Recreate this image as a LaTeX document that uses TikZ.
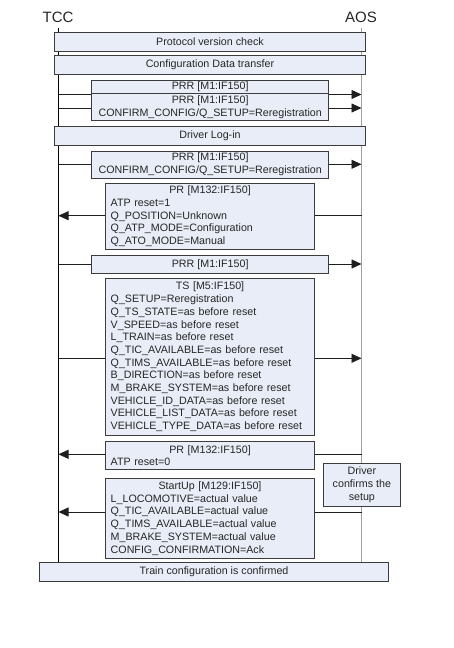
\documentclass[tikz,border=0pt]{standalone}
\usepackage{fontspec}
\setmainfont{Liberation Sans}
\usetikzlibrary{arrows.meta}
\definecolor{boxfill}{RGB}{232,237,247}
\definecolor{boxline}{RGB}{60,60,60}
\definecolor{aosline}{RGB}{160,160,160}
\definecolor{msgline}{RGB}{30,30,30}
% centred heading line inside a left-aligned message box
\newcommand{\msghead}[1]{\hbox to\hsize{\hss#1\hss}\\}

\begin{document}
\begin{tikzpicture}[x=1pt,y=-1pt,
  every node/.style={font=\fontsize{10.7}{12.7}\selectfont, text=black!85},
  phase/.style={draw=boxline, fill=boxfill, line width=0.8pt, inner sep=0pt, align=center},
  msg/.style={draw=boxline, fill=boxfill, line width=0.8pt, inner xsep=5pt, inner ysep=1pt, align=left},
  msgc/.style={draw=boxline, fill=boxfill, line width=0.8pt, inner sep=0pt, align=center},
  msgarrow/.style={draw=msgline, line width=0.8pt, -{Triangle[length=10pt,width=9pt]}},
  actor/.style={font=\fontsize{15}{18}\selectfont}
]
\useasboundingbox (0,0) rectangle (453,648);

% actors
\node[actor] (tcc) at (58,17) {TCC};
\node[actor] (aos) at (361,17) {AOS};

% lifelines
\coordinate (tcctop) at (58.5,28);
\coordinate (tccbot) at (58.5,562);
\coordinate (aostop) at (361.5,28);
\coordinate (aosbot) at (361.5,562);
\draw[black, line width=0.8pt] (tcctop) -- (tccbot);
\draw[aosline, line width=1.5pt] (aostop) -- (aosbot);

% message levels
\coordinate (m1) at (0,94.5);
\coordinate (m2) at (0,108);
\coordinate (m3) at (0,164.3);
\coordinate (m4) at (0,215.7);
\coordinate (m5) at (0,264);
\coordinate (m6) at (0,358.3);
\coordinate (m7) at (0,454.3);
\coordinate (m8) at (0,512);

\draw[msgarrow] (tcctop |- m1) -- (aostop |- m1);
\draw[msgarrow] (tcctop |- m2) -- (aostop |- m2);
\draw[msgarrow] (tcctop |- m3) -- (aostop |- m3);
\draw[msgarrow] (aostop |- m4) -- (tcctop |- m4);
\draw[msgarrow] (tcctop |- m5) -- (aostop |- m5);
\draw[msgarrow] (tcctop |- m6) -- (aostop |- m6);
\draw[msgarrow] (aostop |- m7) -- (tcctop |- m7);
\draw[msgarrow] (aostop |- m8) -- (tcctop |- m8);

% phases
\node[phase, minimum width=311.4pt, minimum height=19.4pt] (pvc) at (210,42) {Protocol version check};
\node[phase, minimum width=311.4pt, minimum height=18.3pt] (cdt) at (210,64.85) {Configuration Data transfer};

% messages
\node[msgc, minimum width=237pt, minimum height=13.2pt] (prr1) at (210.2,86.9) {PRR [M1:IF150]};
\node[msgc, minimum width=237pt, minimum height=27.2pt] (prr2) at (210.2,107.1) {PRR [M1:IF150]\\CONFIRM\_CONFIG/Q\_SETUP=Reregistration};

\node[phase, minimum width=311.4pt, minimum height=19.3pt] (dli) at (210,135.7) {Driver Log-in};

\node[msgc, minimum width=237pt, minimum height=27pt] (prr3) at (210.2,164.5) {PRR [M1:IF150]\\CONFIRM\_CONFIG/Q\_SETUP=Reregistration};

\node[msg, minimum width=208.6pt, minimum height=66pt, text width=198.6pt] (pr1) at (210,216.3)
  {\msghead{PR [M132:IF150]}ATP reset=1\\Q\_POSITION=Unknown\\Q\_ATP\_MODE=Configuration\\Q\_ATO\_MODE=Manual};

\node[msgc, minimum width=237pt, minimum height=17.6pt] (prr4) at (210.2,264.5) {PRR [M1:IF150]};

\node[msg, minimum width=208.6pt, minimum height=157.4pt, text width=198.6pt] (ts) at (210,357)
  {\msghead{TS [M5:IF150]}Q\_SETUP=Reregistration\\Q\_TS\_STATE=as before reset\\V\_SPEED=as before reset\\L\_TRAIN=as before reset\\Q\_TIC\_AVAILABLE=as before reset\\Q\_TIMS\_AVAILABLE=as before reset\\B\_DIRECTION=as before reset\\M\_BRAKE\_SYSTEM=as before reset\\VEHICLE\_ID\_DATA=as before reset\\VEHICLE\_LIST\_DATA=as before reset\\VEHICLE\_TYPE\_DATA=as before reset};

\node[msg, minimum width=208.6pt, minimum height=28pt, text width=198.6pt] (pr2) at (210,455.7)
  {\msghead{PR [M132:IF150]}ATP reset=0};

\node[msgc, minimum width=76.3pt, minimum height=42.3pt] (drv) at (361.85,484.85) {Driver\\confirms the\\setup};

\node[msg, minimum width=208.6pt, minimum height=80.4pt, text width=198.6pt] (su) at (210,518.5)
  {\msghead{StartUp [M129:IF150]}L\_LOCOMOTIVE=actual value\\Q\_TIC\_AVAILABLE=actual value\\Q\_TIMS\_AVAILABLE=actual value\\M\_BRAKE\_SYSTEM=actual value\\CONFIG\_CONFIRMATION=Ack};

\node[phase, minimum width=349.4pt, minimum height=19pt] (tcfg) at (214,571.8) {Train configuration is confirmed};
\end{tikzpicture}
\end{document}
